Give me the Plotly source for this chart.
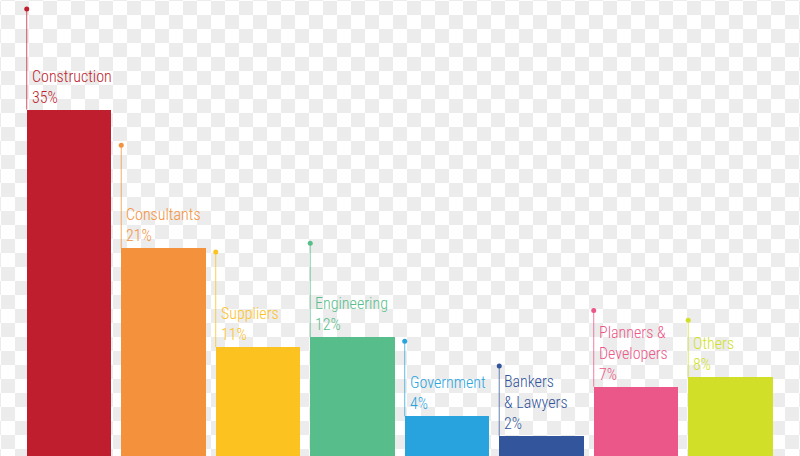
import base64
import plotly.graph_objects as go

# data
categories = ["Construction", "Consultants", "Suppliers", "Engineering",
              "Government", "Bankers<br>& Lawyers", "Planners &<br>Developers", "Others"]
shares = [35, 21, 11, 12, 4, 2, 7, 8]
colors = ["#be1e2d", "#f4913c", "#fcc21f", "#57be8b",
          "#29a3de", "#33559b", "#eb5788", "#d2df29"]

# how far each leader line rises above its bar (in % units)
LEADER = [10.15, 10.4, 9.6, 9.5, 7.6, 7.1, 7.7, 5.7]
BAR_W = 0.894
FONT = ("Roboto Condensed, Noto Sans ExtraCondensed, Noto Sans SemiCondensed, "
        "DejaVu Sans Condensed, sans-serif")


def _rgba(hex_color, alpha):
    h = hex_color.lstrip("#")
    r, g, b = int(h[0:2], 16), int(h[2:4], 16), int(h[4:6], 16)
    return f"rgba({r},{g},{b},{alpha})"


# transparency-style checkerboard backdrop
svg = (
    "<svg xmlns='http://www.w3.org/2000/svg' width='800' height='456'>"
    "<defs><pattern id='c' width='28' height='28' patternUnits='userSpaceOnUse' x='1' y='1'>"
    "<rect width='28' height='28' fill='#ececec'/>"
    "<rect width='14' height='14' fill='#ffffff'/>"
    "<rect x='14' y='14' width='14' height='14' fill='#ffffff'/>"
    "</pattern></defs><rect width='800' height='456' fill='url(#c)'/></svg>"
)
bg_src = "data:image/svg+xml;base64," + base64.b64encode(svg.encode()).decode()

xs = list(range(len(categories)))

fig = go.Figure()
fig.add_trace(go.Bar(
    x=xs, y=shares, width=BAR_W,
    marker=dict(color=colors, line=dict(width=0)),
    hoverinfo="skip", showlegend=False,
))

# leader lines with a dot on top
for i, (v, c, lead) in enumerate(zip(shares, colors, LEADER)):
    x_left = i - BAR_W / 2
    fig.add_trace(go.Scatter(
        x=[x_left, x_left], y=[v, v + lead], mode="lines",
        line=dict(color=_rgba(c, 0.75), width=1),
        hoverinfo="skip", showlegend=False,
    ))
    fig.add_trace(go.Scatter(
        x=[x_left], y=[v + lead], mode="markers",
        marker=dict(color=c, size=5, line=dict(width=0)),
        hoverinfo="skip", showlegend=False,
    ))
    fig.add_annotation(
        x=x_left, y=v, xref="x", yref="y",
        text=f"{categories[i]}<br>{v}%",
        showarrow=False, xanchor="left", yanchor="bottom", align="left",
        xshift=3, yshift=1,
        font=dict(family=FONT, size=16, weight=300, color=c),
    )

fig.update_layout(
    width=800, height=456,
    margin=dict(l=0, r=0, t=0, b=0),
    paper_bgcolor="white",
    plot_bgcolor="rgba(0,0,0,0)",
    bargap=0,
    xaxis=dict(range=[-0.730, 7.736], visible=False, fixedrange=True),
    yaxis=dict(range=[0, 46.06], visible=False, fixedrange=True),
    images=[dict(source=bg_src, xref="paper", yref="paper", x=0, y=1,
                 sizex=1, sizey=1, sizing="stretch", layer="below")],
)

fig.write_html("out.html", config={"displayModeBar": False},
               post_script="document.body.style.margin='0';")
